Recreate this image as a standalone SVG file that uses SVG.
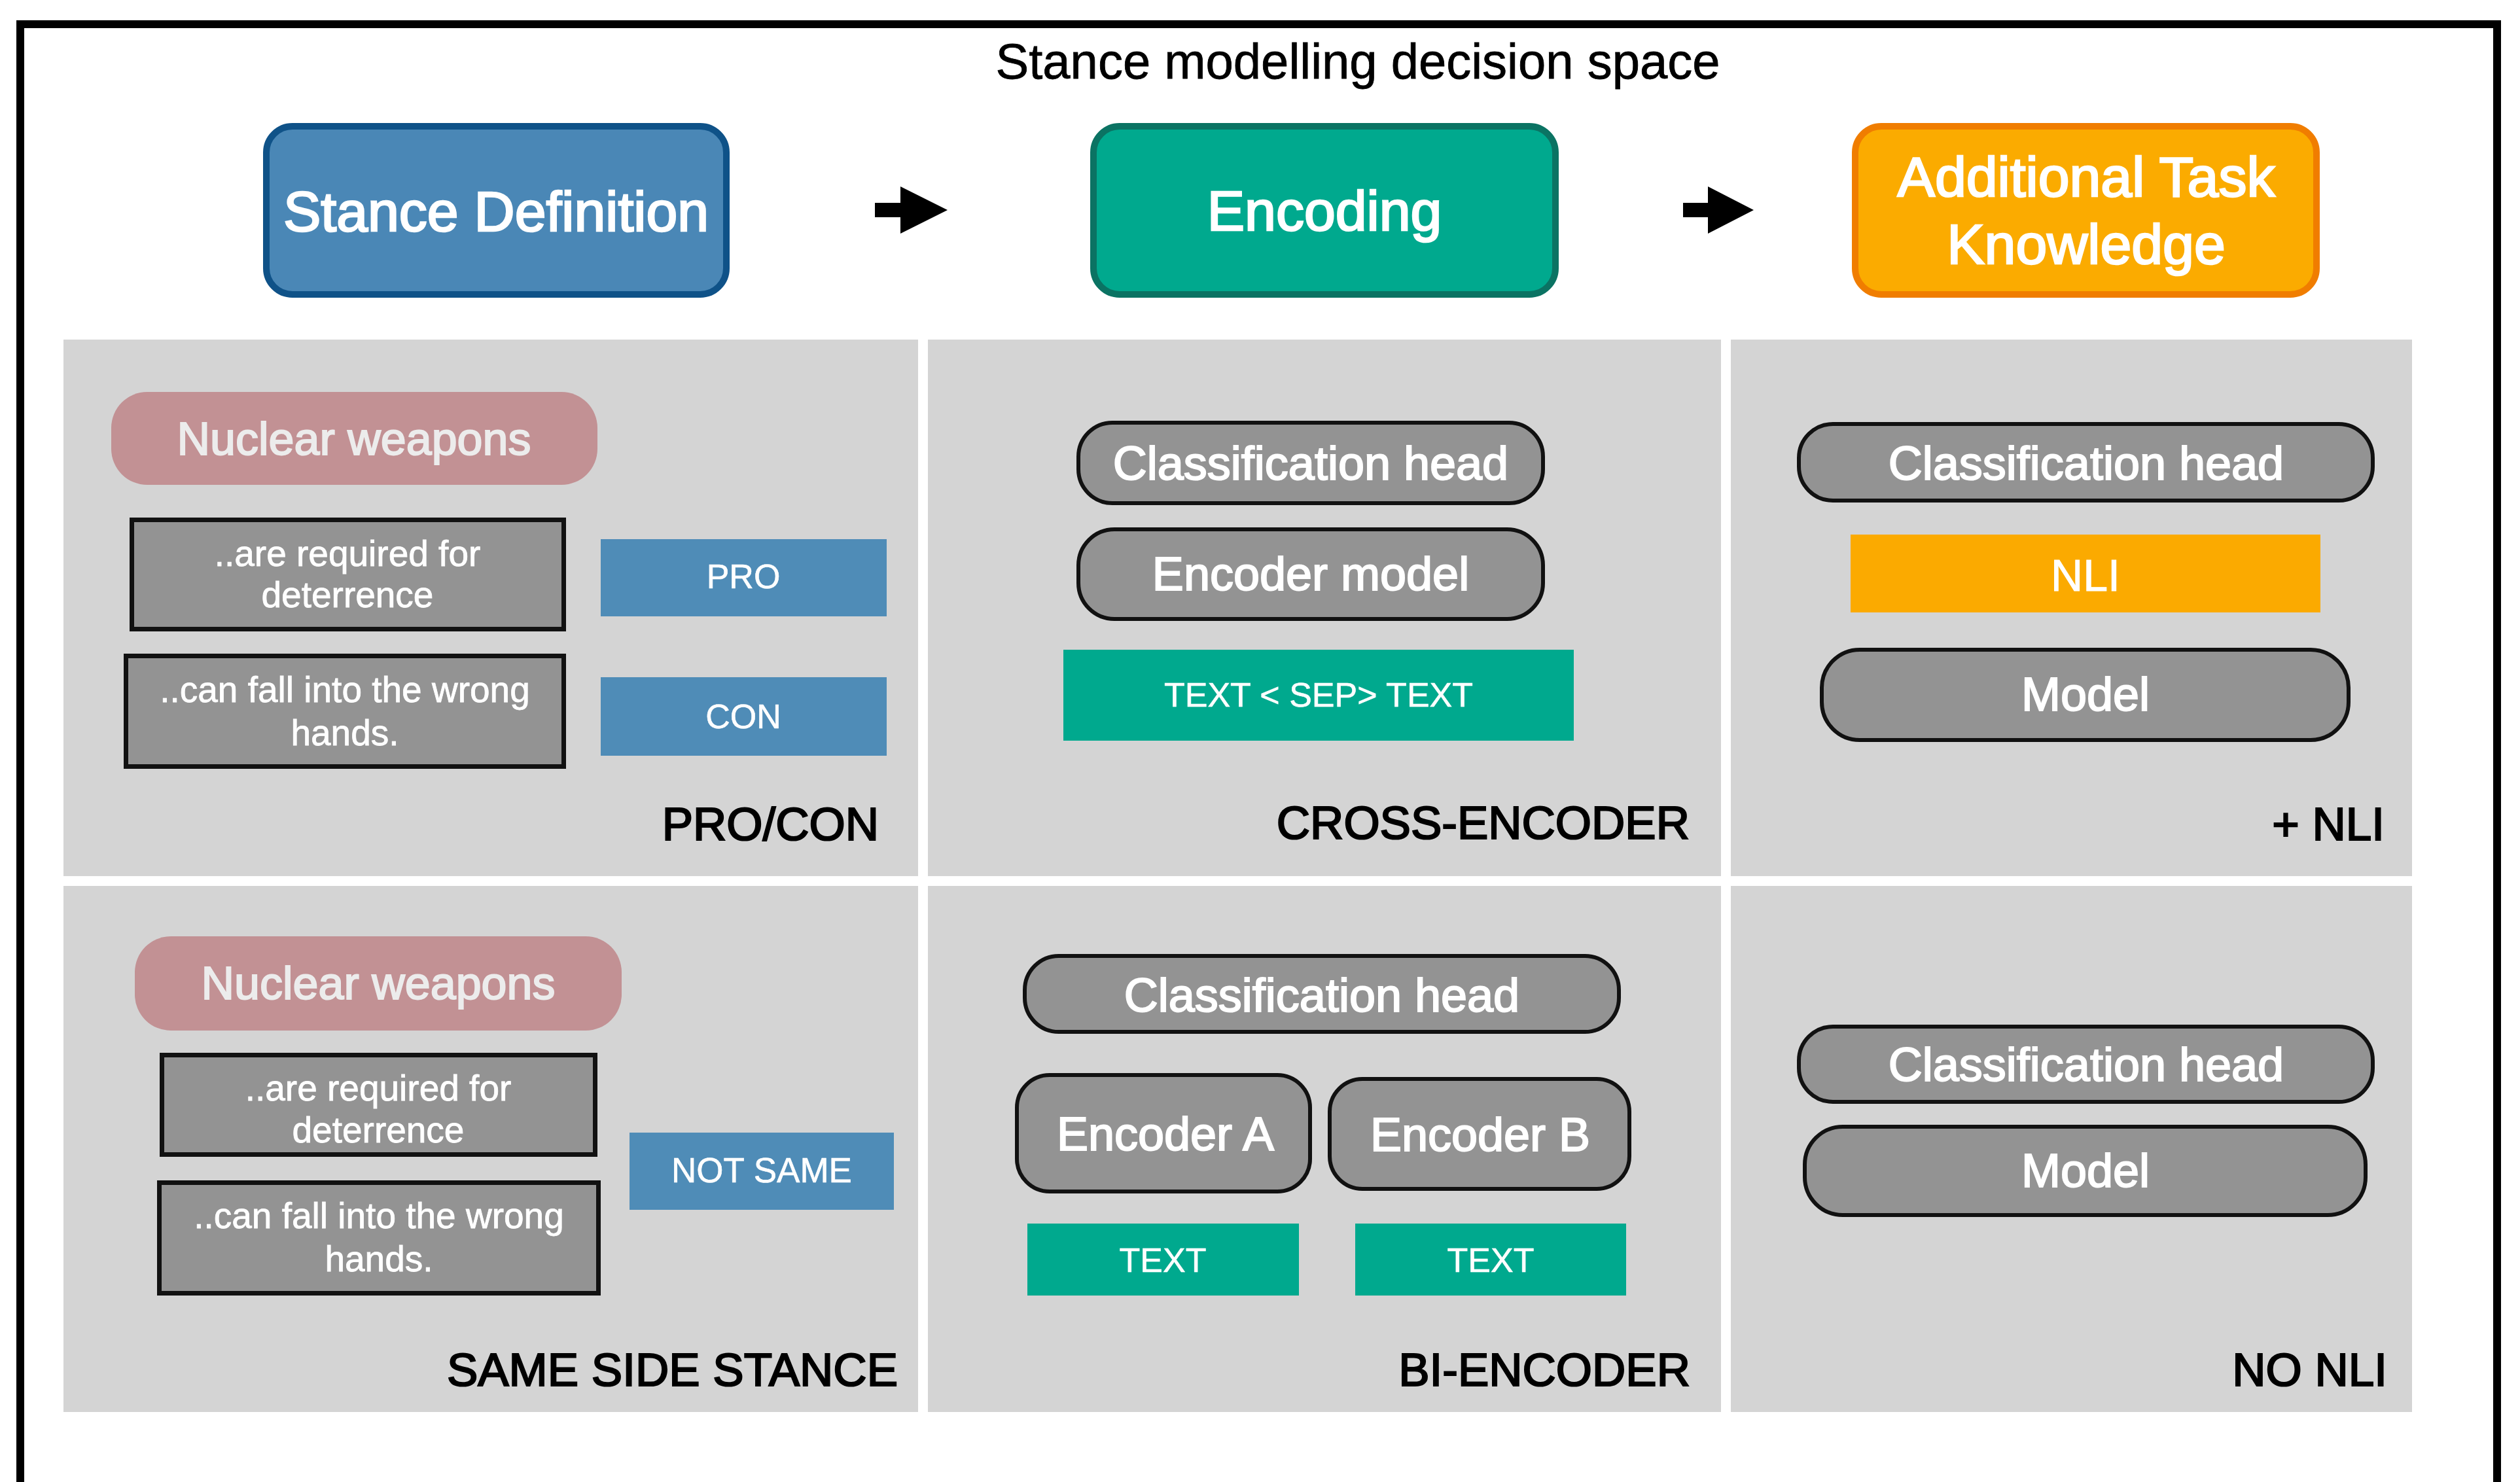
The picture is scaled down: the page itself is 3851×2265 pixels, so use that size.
<svg xmlns="http://www.w3.org/2000/svg" width="3851" height="2265" viewBox="0 0 3851 2265">
<style>
text{font-family:"Liberation Sans",Arial,Helvetica,sans-serif;}
.hd{fill:#ffffff;stroke:#ffffff;stroke-width:2.6;text-anchor:middle;font-size:86px;}
.w{fill:#ffffff;stroke:#ffffff;stroke-width:2;text-anchor:middle;font-size:72px;}
.ws{fill:#ffffff;stroke:#ffffff;stroke-width:0.8;text-anchor:middle;font-size:55px;}
.wt{fill:#ffffff;stroke:#ffffff;stroke-width:0.6;text-anchor:middle;font-size:52px;}
.nw{fill:#ececec;stroke:#ececec;stroke-width:2;text-anchor:middle;font-size:70px;}
.lbl{fill:#000000;stroke:#000000;stroke-width:2.2;text-anchor:end;font-size:71px;}
.title{fill:#000000;stroke:#000000;stroke-width:0.8;text-anchor:middle;font-size:76px;}
.panel{fill:#d4d4d4;}
.pill{fill:#939393;stroke:#111111;stroke-width:6;}
.sbox{fill:#939393;stroke:#111111;stroke-width:7;}
.nuke{fill:#c29194;}
.blue{fill:#4f8cb7;}
.teal{fill:#00a98e;}
.nli{fill:#fbaa00;}
.arrow{fill:#000000;}
</style>
<rect x="0" y="0" width="3851" height="2265" fill="#ffffff"/>
<path d="M31,2265 V37 H3816 V2265" fill="none" stroke="#000000" stroke-width="12"/>
<text class="title" x="2075" y="120">Stance modelling decision space</text>

<g id="hdr-stance">
<rect x="407" y="193" width="703" height="257" rx="40" fill="#4a87b6" stroke="#0f5288" stroke-width="10"/>
<text class="hd" x="758" y="353">Stance Definition</text>
</g>
<g id="hdr-encoding">
<rect x="1671" y="193" width="706" height="257" rx="40" fill="#00a98e" stroke="#0b7363" stroke-width="10"/>
<text class="hd" x="2024" y="352">Encoding</text>
</g>
<g id="hdr-knowledge">
<rect x="2835" y="193" width="705" height="257" rx="40" fill="#fbab00" stroke="#f07d00" stroke-width="10"/>
<text class="hd" x="3188" y="300">Additional Task</text>
<text class="hd" x="3188" y="403">Knowledge</text>
</g>

<g id="connectors">
<path class="arrow" d="M1337,310 H1376 V285 L1448,321 L1376,357 V332 H1337 Z"/>
<path class="arrow" d="M2572,310 H2610 V285 L2680,321 L2610,357 V332 H2572 Z"/>
</g>

<g id="panel-procon">
<rect class="panel" x="97" y="519" width="1306" height="820"/>
<rect class="nuke" x="170" y="599" width="743" height="142" rx="55"/>
<text class="nw" x="541" y="695">Nuclear weapons</text>
<rect class="sbox" x="201.5" y="794.5" width="660" height="167"/>
<text class="ws" x="531" y="865">..are required for</text>
<text class="ws" x="531" y="928">deterrence</text>
<rect class="sbox" x="192.5" y="1002.5" width="669" height="169"/>
<text class="ws" x="527" y="1073">..can fall into the wrong</text>
<text class="ws" x="527" y="1139">hands.</text>
<rect class="blue" x="918" y="824" width="437" height="118"/>
<text class="wt" x="1136" y="899">PRO</text>
<rect class="blue" x="918" y="1035" width="437" height="120"/>
<text class="wt" x="1136" y="1113">CON</text>
<text class="lbl" x="1343" y="1284">PRO/CON</text>
</g>

<g id="panel-cross-encoder">
<rect class="panel" x="1418" y="519" width="1212" height="820"/>
<rect class="pill" x="1648" y="646" width="710" height="123" rx="52"/>
<text class="w" x="2003" y="733">Classification head</text>
<rect class="pill" x="1648" y="809" width="710" height="137" rx="55"/>
<text class="w" x="2003" y="902">Encoder model</text>
<rect class="teal" x="1625" y="993" width="780" height="139"/>
<text class="wt" x="2015" y="1080">TEXT &lt; SEP&gt; TEXT</text>
<text class="lbl" x="2582" y="1282">CROSS-ENCODER</text>
</g>

<g id="panel-nli">
<rect class="panel" x="2645" y="519" width="1041" height="820"/>
<rect class="pill" x="2749" y="648" width="877" height="117" rx="52"/>
<text class="w" x="3188" y="733">Classification head</text>
<rect class="nli" x="2828" y="817" width="718" height="119"/>
<text class="w" x="3187" y="903" style="font-size:68px;stroke-width:1">NLI</text>
<rect class="pill" x="2784" y="993" width="805" height="138" rx="58"/>
<text class="w" x="3187" y="1086">Model</text>
<text class="lbl" x="3644" y="1284">+ NLI</text>
</g>

<g id="panel-same-side">
<rect class="panel" x="97" y="1354" width="1306" height="804"/>
<rect class="nuke" x="206" y="1431" width="744" height="144" rx="55"/>
<text class="nw" x="578" y="1527">Nuclear weapons</text>
<rect class="sbox" x="247.5" y="1612.5" width="662" height="152"/>
<text class="ws" x="578" y="1682">..are required for</text>
<text class="ws" x="578" y="1746">deterrence</text>
<rect class="sbox" x="243.5" y="1807.5" width="671" height="169"/>
<text class="ws" x="579" y="1877">..can fall into the wrong</text>
<text class="ws" x="579" y="1943">hands.</text>
<rect class="blue" x="962" y="1731" width="404" height="118"/>
<text class="wt" x="1164" y="1807" style="font-size:53px">NOT SAME</text>
<text class="lbl" x="1372" y="2118">SAME SIDE STANCE</text>
</g>

<g id="panel-bi-encoder">
<rect class="panel" x="1418" y="1354" width="1212" height="804"/>
<rect class="pill" x="1566" y="1461" width="908" height="116" rx="52"/>
<text class="w" x="2020" y="1546">Classification head</text>
<rect class="pill" x="1554" y="1643" width="448" height="178" rx="50"/>
<text class="w" x="1781" y="1758">Encoder A</text>
<rect class="pill" x="2032" y="1649" width="458" height="168" rx="50"/>
<text class="w" x="2262" y="1759">Encoder B</text>
<rect class="teal" x="1570" y="1870" width="415" height="110"/>
<text class="wt" x="1777" y="1944">TEXT</text>
<rect class="teal" x="2071" y="1870" width="414" height="110"/>
<text class="wt" x="2278" y="1944">TEXT</text>
<text class="lbl" x="2583" y="2118">BI-ENCODER</text>
</g>

<g id="panel-no-nli">
<rect class="panel" x="2645" y="1354" width="1041" height="804"/>
<rect class="pill" x="2749" y="1569" width="877" height="115" rx="52"/>
<text class="w" x="3188" y="1652">Classification head</text>
<rect class="pill" x="2758" y="1722" width="857" height="135" rx="58"/>
<text class="w" x="3187" y="1814">Model</text>
<text class="lbl" x="3648" y="2118">NO NLI</text>
</g>
</svg>
